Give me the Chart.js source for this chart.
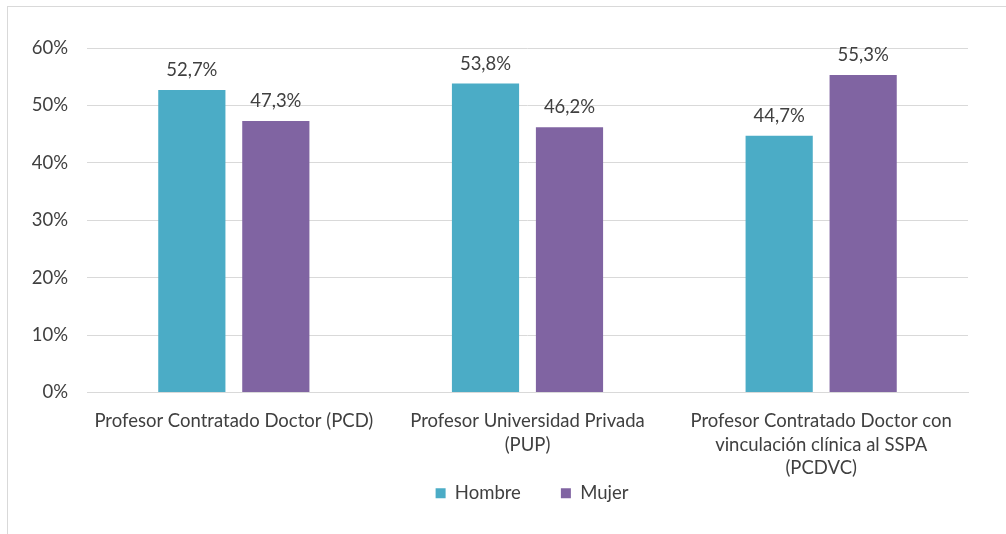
<!DOCTYPE html>
<html>
<head>
<meta charset="utf-8">
<script src="https://cdn.jsdelivr.net/npm/chart.js@4.4.1/dist/chart.umd.min.js"></script>
<style>
  html, body { margin: 0; padding: 0; background: #fff; }
  #wrap { position: relative; width: 1006px; height: 534px; }
  #frame { position: absolute; left: 7px; top: 6px; right: 0; bottom: 0;
           border-left: 1px solid #d9d9d9; border-top: 1px solid #d9d9d9; }
  canvas { position: absolute; left: 0; top: 0; }
</style>
</head>
<body>
<div id="wrap">
  <div id="frame"></div>
  <canvas id="chart" width="1006" height="534"></canvas>
</div>
<script>
    const categories = [
        ['Profesor Contratado Doctor (PCD)'],
        ['Profesor Universidad Privada', '(PUP)'],
        ['Profesor Contratado Doctor con', 'vinculación clínica al SSPA', '(PCDVC)']
    ];
    const hombre = [52.7, 53.8, 44.7];
    const mujer = [47.3, 46.2, 55.3];
    const yTicks = [0, 10, 20, 30, 40, 50, 60];

    const textColor = '#404040';
    const fontFamily = "Lato, 'Noto Sans', sans-serif";
    const fontSize = 18.5;

    // value above each bar (decimal comma) + legend nudge
    const valueLabels = {
        id: 'valueLabels',
        afterUpdate(chart) {
            const lg = chart.legend;
            lg.left += 34;
            lg.right += 34;
            lg.top -= 45;
            lg.bottom = lg.top + 80;
        },
        afterDatasetsDraw(chart) {
            const ctx = chart.ctx;
            ctx.save();
            ctx.fillStyle = textColor;
            ctx.font = fontSize + "px " + fontFamily;
            ctx.textAlign = 'center';
            ctx.textBaseline = 'alphabetic';
            chart.data.datasets.forEach((ds, i) => {
                chart.getDatasetMeta(i).data.forEach((bar, j) => {
                    const txt = ds.data[j].toFixed(1).replace('.', ',') + '%';
                    ctx.fillText(txt, bar.x, bar.y - 14);
                });
            });
            ctx.restore();
        }
    };

    new Chart(document.getElementById('chart').getContext('2d'), {
        type: 'bar',
        data: {
            labels: categories,
            datasets: [{
                label: 'Hombre',
                data: hombre,
                backgroundColor: '#4BACC6',
                categoryPercentage: 0.572,
                barPercentage: 0.8
            }, {
                label: 'Mujer',
                data: mujer,
                backgroundColor: '#8064A2',
                categoryPercentage: 0.572,
                barPercentage: 0.8
            }]
        },
        options: {
            responsive: false,
            animation: false,
            layout: { padding: { left: 28, right: 38, top: 48, bottom: 0 } },
            plugins: {
                legend: {
                    position: 'bottom',
                    maxHeight: 45,
                    labels: {
                        boxWidth: 10,
                        boxHeight: 10,
                        padding: 40,
                        color: textColor,
                        font: { family: fontFamily, size: fontSize }
                    }
                },
                tooltip: { enabled: false }
            },
            scales: {
                x: {
                    grid: { display: false },
                    border: { color: '#d9d9d9' },
                    ticks: {
                        color: textColor,
                        maxRotation: 0,
                        padding: 9,
                        font: { family: fontFamily, size: fontSize, lineHeight: 1.27 }
                    }
                },
                y: {
                    min: 0,
                    max: 60,
                    afterBuildTicks: (axis) => { axis.ticks = yTicks.map(v => ({ value: v })); },
                    afterFit: (axis) => { axis.width = 59; },
                    grid: { color: '#d9d9d9', drawTicks: false },
                    border: { display: false },
                    ticks: {
                        color: textColor,
                        padding: 19,
                        font: { family: fontFamily, size: fontSize },
                        callback: (v) => v + '%'
                    }
                }
            }
        },
        plugins: [valueLabels]
    });
</script>
</body>
</html>
